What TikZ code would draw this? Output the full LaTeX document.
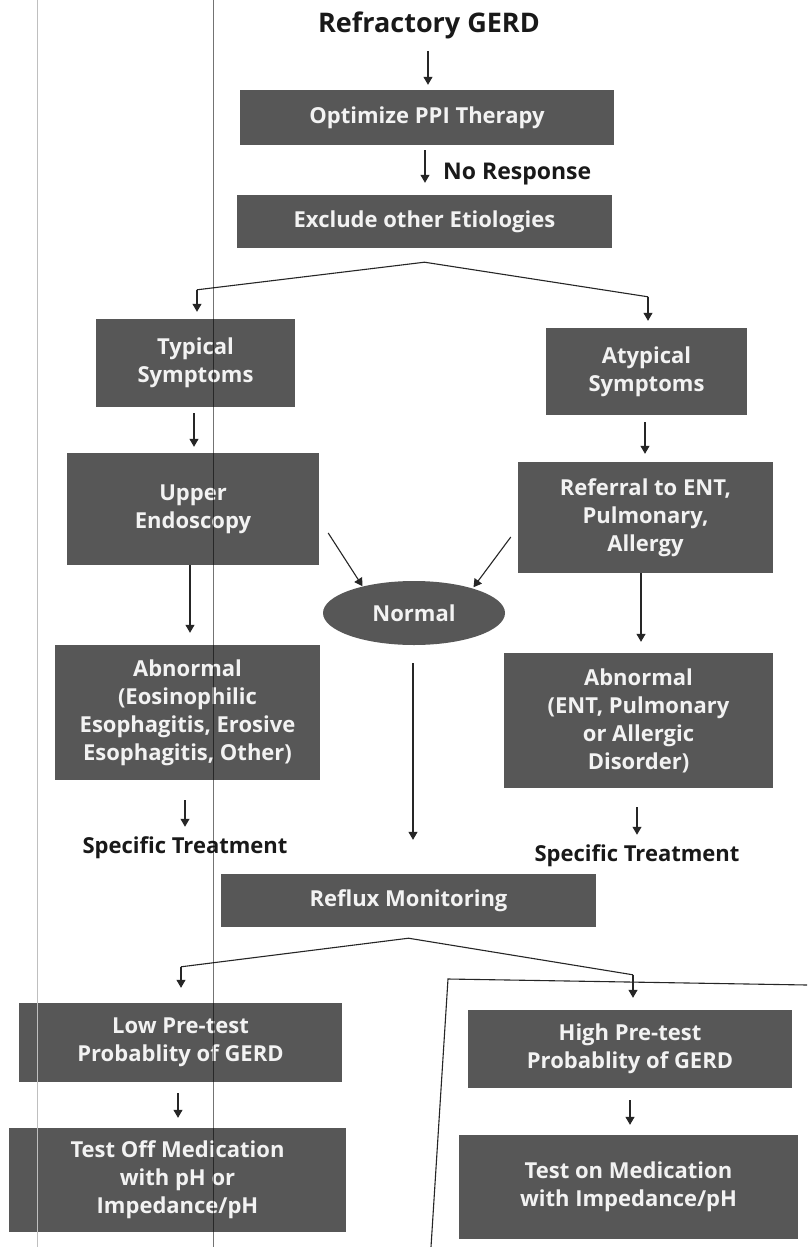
\documentclass[tikz,border=0pt]{standalone}
\usepackage{fontspec}
\setmainfont{Open Sans}
\usetikzlibrary{arrows.meta,shapes.geometric,calc}
\definecolor{boxgray}{HTML}{575757}
\definecolor{txtwhite}{HTML}{F2F2F2}
\begin{document}
\begin{tikzpicture}[x=1pt,y=-1pt,
  box/.style={fill=boxgray, text=txtwhite, font=\bfseries\fontsize{22}{28}\selectfont, align=center, inner sep=0pt},
  plain/.style={text=black!90, font=\bfseries\fontsize{22}{28}\selectfont, inner sep=0pt},
  arr/.style={draw=black!85, line width=1.1pt, -{Triangle[length=8pt,width=9pt]}},
  ln/.style={draw=black!85, line width=1.1pt}]
\useasboundingbox (0,0) rectangle (807,1247);
\fill[white] (0,0) rectangle (807,1247);

% nodes
\node[plain, font=\bfseries\fontsize{27}{30}\selectfont] (title) at (429,25) {Refractory GERD};
\node[box, minimum width=374, minimum height=55] (opt) at (427,117.5) {Optimize PPI Therapy};
\node[box, minimum width=375, minimum height=53] (excl) at (424.5,221.5) {Exclude other Etiologies};
\node[box, minimum width=199, minimum height=88] (typ) at (195.5,363) {Typical\\Symptoms};
\node[box, minimum width=201, minimum height=87] (atyp) at (646.5,371.5) {Atypical\\Symptoms};
\node[box, minimum width=252, minimum height=112] (upper) at (193,509) {Upper\\Endoscopy};
\node[box, minimum width=255, minimum height=111] (ref) at (645.5,517.5) {Referral to ENT,\\Pulmonary,\\Allergy};
\node[box, ellipse, minimum width=182, minimum height=64] (normal) at (414,613) {Normal};
\node[box, minimum width=265, minimum height=135] (abnL) at (187.5,712.5) {Abnormal\\(Eosinophilic\\Esophagitis, Erosive\\Esophagitis, Other)};
\node[box, minimum width=269, minimum height=135] (abnR) at (638.5,720.5) {Abnormal\\(ENT, Pulmonary\\or Allergic\\Disorder)};
\node[plain] (specL) at (185,848) {Specific Treatment};
\node[plain] (specR) at (637,856) {Specific Treatment};
\node[box, minimum width=375, minimum height=53] (reflux) at (408.5,900.5) {Reflux Monitoring};
\node[box, minimum width=323, minimum height=79] (low) at (180.5,1042.5) {Low Pre-test\\Probablity of GERD};
\node[box, minimum width=324, minimum height=78] (high) at (630,1049) {High Pre-test\\Probablity of GERD};
\node[box, minimum width=337, minimum height=104] (off) at (177.5,1180) {Test Off Medication\\with pH or\\Impedance/pH};
\node[box, minimum width=339, minimum height=104] (on) at (628.5,1187) {Test on Medication\\with Impedance/pH};
\node[plain, font=\bfseries\fontsize{23}{28}\selectfont, anchor=west] (nores) at (443,174) {No Response};

% connectors
\draw[arr] ($(title.south)+(-1,12)$) -- ($(opt.north)+(1,-5)$);
\draw[arr] ($(opt.south)+(-2,5)$) -- ($(excl.north)+(0.5,-12)$);
\coordinate (b1) at ($(excl.south)+(0,14)$);
\coordinate (b1l) at ($(typ.north)+(1.5,-29)$);
\coordinate (b1r) at ($(atyp.north)+(1.5,-31)$);
\draw[ln] (b1l) -- (b1) -- (b1r);
\draw[arr] (b1l) -- ($(typ.north)+(1.5,-7)$);
\draw[arr] (b1r) -- ($(atyp.north)+(1.5,-7)$);
\draw[arr] ($(typ.south)+(-1.5,6)$) -- ($(upper.north)+(1,-6)$);
\draw[arr] ($(atyp.south)+(-1.5,7)$) -- ($(ref.north)+(-0.5,-8)$);
\draw[arr] ($(upper.east)+(9,24)$) -- ($(normal.north west)+(13,-4)$);
\draw[arr] ($(ref.west)+(-7,19.5)$) -- ($(normal.north east)+(-5,-3)$);
\draw[arr] ($(upper.south)+(-3,0)$) -- ($(abnL.north)+(2.5,-12)$);
\draw[arr] ($(ref.south)+(-4.5,0)$) -- ($(abnR.north)+(2.5,-11)$);
\draw[arr] ($(normal.south)+(-1,18)$) -- ($(reflux.north)+(4.5,-34)$);
\draw[arr] ($(abnL.south)+(-2.5,20)$) -- ($(specL.north)+(0,-10)$);
\draw[arr] ($(abnR.south)+(-1.5,19)$) -- ($(specR.north)+(0,-10)$);
\coordinate (b2) at ($(reflux.south)+(0,11)$);
\coordinate (b2l) at ($(low.north)+(0.5,-36)$);
\coordinate (b2r) at ($(high.north)+(3,-35)$);
\draw[ln] (b2l) -- (b2) -- (b2r);
\draw[arr] (b2l) -- ($(low.north)+(0.5,-15)$);
\draw[arr] (b2r) -- ($(high.north)+(3,-12)$);
\draw[arr] ($(low.south)+(-2.5,11)$) -- ($(off.north)+(0.5,-10)$);
\draw[arr] ($(high.south)+(0,12)$) -- ($(on.north)+(1.5,-10)$);

% scan artefacts: frame and vertical lines
\draw[black!85, line width=1.1pt] (807,985) -- (448,979) -- (431,1247);
\draw[black!25, line width=0.8pt] (37,0) -- (37,1247);
\draw[black, opacity=0.55, line width=1.3pt] (213.5,0) -- (213.5,1247);
\end{tikzpicture}
\end{document}
